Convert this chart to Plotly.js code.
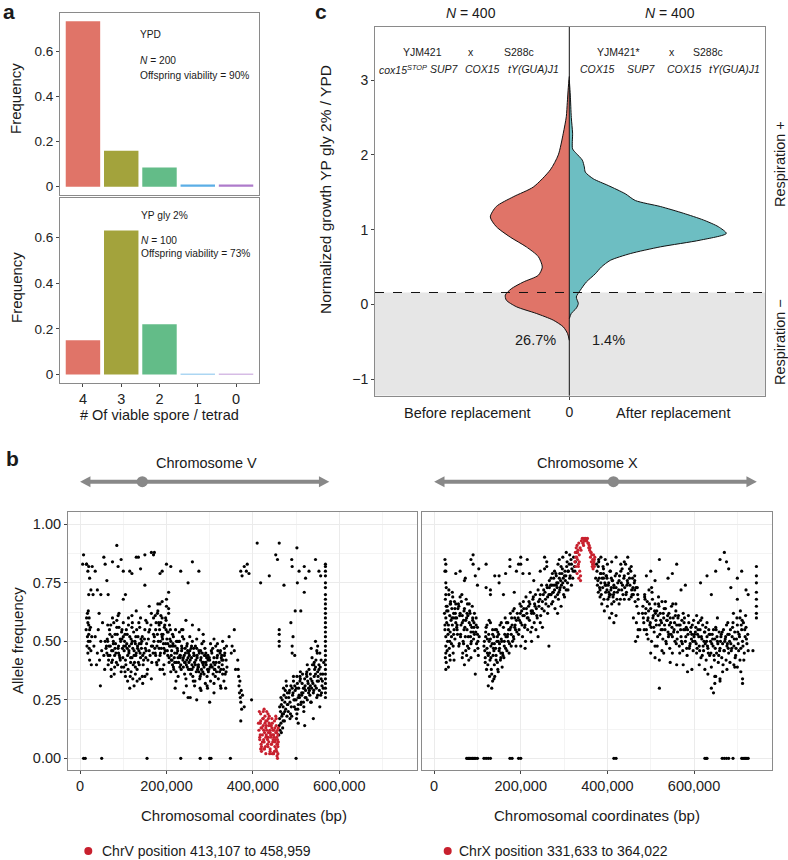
<!DOCTYPE html>
<html><head><meta charset="utf-8">
<script src="https://cdn.plot.ly/plotly-3.0.1.min.js"></script>
<style>html,body{margin:0;padding:0;background:#fff;}#chart{width:788px;height:860px;}</style>
</head><body><div id="chart"></div>
<script>
// ---------- Panel a : tetrad viability ----------
const spores = ['4','3','2','1','0'];
const freqYPD = [0.735, 0.16, 0.085, 0.01, 0.01];
const freqGly = [0.15, 0.63, 0.22, 0.003, 0.003];
const sporeColors = ['#E07468','#A3A33C','#63BC88','#5BAEE6','#AE7BCB'];

// ---------- Panel c : split violin (half-widths, relative density) ----------
const beforeY = [3.05,2.9,2.7,2.51,2.29,2.0,1.8,1.57,1.44,1.31,1.17,1.04,0.90,0.77,0.64,0.50,0.39,0.30,0.21,0.125,0.058,-0.03,-0.12,-0.21,-0.30,-0.39,-0.48];
const beforeDens = [0,0.01,0.02,0.03,0.06,0.11,0.19,0.36,0.56,0.73,0.79,0.73,0.59,0.43,0.31,0.27,0.31,0.46,0.58,0.64,0.63,0.53,0.33,0.16,0.06,0.017,0];
const afterY = [3.0,2.8,2.5,2.29,2.08,2.02,1.93,1.84,1.77,1.68,1.59,1.48,1.39,1.31,1.22,1.13,1.04,0.95,0.86,0.77,0.68,0.59,0.50,0.41,0.30,0.19,0.10,0.013,-0.05,-0.12,-0.19];
const afterDens = [0,0.01,0.02,0.033,0.033,0.07,0.13,0.15,0.16,0.24,0.39,0.56,0.66,0.91,1.14,1.34,1.49,1.57,1.31,0.91,0.61,0.41,0.32,0.26,0.17,0.11,0.07,0.09,0.07,0.02,0];
const threshold = 0.16;
const pctLabels = ['26.7%','1.4%'];
const nLabels = ['400','400'];

// ---------- Panel b : allele frequency (kb, percent) ----------
const chrV_kb = [
14,15,16,17,17,18,18,19,19,20,20,21,21,22,22,23,24,25,26,27,
15,18,22,20,25,32,35,38,40,42,45,47,48,50,52,55,57,58,60,44,
62,64,66,68,70,72,74,76,78,80,82,84,86,88,90,92,94,96,98,100,
63,65,67,69,71,73,75,77,79,81,83,85,87,89,91,93,95,97,99,101,
102,104,106,108,110,112,114,116,118,120,122,124,126,128,130,132,134,136,138,140,
103,105,107,109,111,113,115,117,119,121,123,125,127,129,131,133,135,137,139,141,
142,144,146,148,150,152,154,156,158,160,162,164,166,168,170,143,147,151,155,159,
105,110,115,118,122,125,128,132,138,145,150,165,75,90,100,120,130,140,155,165,170,160,
172,174,176,178,180,182,184,186,188,190,192,194,196,198,200,202,204,206,208,210,
173,175,177,179,181,183,185,187,189,191,193,195,197,199,201,203,205,207,209,211,
180,190,200,205,185,195,210,
212,214,216,218,220,222,224,226,228,230,232,234,236,238,240,242,244,246,248,250,
213,215,217,219,221,223,225,227,229,231,233,235,237,239,241,243,245,247,249,251,
252,254,256,258,260,262,264,266,268,270,272,274,276,278,280,282,284,286,288,290,
253,255,257,259,261,263,265,267,269,271,273,275,277,279,281,283,285,287,289,291,
292,294,296,298,300,302,304,306,308,310,312,314,316,318,320,322,324,326,328,330,
293,297,301,305,309,313,317,321,325,329,332,334,336,338,340,333,335,337,339,331,
220,240,255,265,280,295,310,325,300,270,250,235,260,285,310,330,245,275,
6,8,15,20,28,35,40,48,55,58,62,75,85,88,95,100,115,120,130,135,
140,150,165,170,172,185,190,200,210,233,250,260,275,185,205,150,100,105,65,30,
350,357,357,360,365,366,367,368,369,370,371,372,372,373,374,376,380,397,345,352,
8,12,50,155,233,278,300,303,348,500,
372,375,380,385,387,391,410,418,438,453,457,461,472,490,491,498,502,503,507,519,519,522,553,557,545,530,
460,461,462,463,464,465,466,467,468,469,470,471,472,473,474,475,476,477,478,479,
480,462,465,468,471,474,477,480,466,470,
461,461,461,461,491,491,493,497,488,511,
482,484,486,488,490,492,494,496,498,500,502,504,506,508,510,512,514,516,518,520,
522,524,526,528,530,532,534,536,538,540,542,544,546,548,550,552,554,556,558,560,
483,487,491,495,499,503,507,511,515,519,523,527,531,535,539,543,547,551,555,559,
562,563,564,561,557,553,549,545,541,537,533,529,525,521,517,513,509,505,501,497,
520,540,505,555,550,545,548,535,
568,568,568,568,568,568,568,568,568,568,568,568,568,568,568,568,568,568,568,568,568,568,568,568,568,568,568,568,568,
61,65,69,73,77,81,85,89,93,97,101,105,109,113,117,121,125,129,133,137,
141,145,149,153,157,161,165,169,64,72,80,88,96,104,112,120,128,136,144,152,
171,175,179,183,187,191,195,199,203,207,174,178,182,186,190,194,198,202,206,210,
211,215,219,223,227,231,235,239,243,247,251,255,259,263,267,271,275,279,283,287,
291,295,299,303,307,311,315,319,323,327,214,222,230,238,246,254,262,270,278,286,
294,302,310,318,326,334,216,232,248,264,280,296,312,328,338,226,242,258,274,290,
481,485,489,493,497,501,505,509,513,517,521,525,529,533,537,541,545,549,553,557,
486,494,502,510,518,526,534,542,550,558
];
const chrV_af = [
55,60,48,62,52,58,45,63,50,57,53,60,47,55,42,50,56,46,40,52,
83,80,77,70,72,48,52,40,45,55,42,31,50,46,58,44,38,50,47,62,
45,50,42,55,48,38,52,46,58,44,49,41,53,47,56,43,50,39,47,52,
51,40,48,44,57,46,42,49,36,53,45,59,40,48,44,51,37,55,43,48,
46,53,40,49,44,57,48,35,51,43,47,54,41,49,45,38,52,46,56,43,
50,42,55,47,38,45,52,43,49,58,40,46,50,44,55,47,41,49,45,51,
47,52,40,45,55,43,49,38,51,46,44,57,41,48,53,50,42,47,36,54,
35,33,30,37,34,31,36,33,34,32,35,34,60,62,58,61,63,60,58,62,60,65,
52,45,58,48,63,42,55,50,47,60,53,40,57,49,65,46,54,43,51,48,
47,55,41,62,50,57,44,61,53,38,49,56,46,59,51,44,62,48,55,42,
66,67,68,64,38,36,37,
46,40,52,43,48,37,45,50,41,54,44,38,47,42,51,36,45,40,49,43,
42,49,38,45,55,41,47,35,50,44,40,48,52,39,44,47,34,42,46,38,
41,46,36,43,50,39,44,33,42,47,38,40,45,35,43,49,37,41,44,32,
44,38,47,40,35,45,41,48,37,43,39,46,34,42,38,45,40,36,47,41,
40,35,44,38,42,33,46,39,36,43,40,48,37,44,34,41,45,38,42,36,
43,37,39,45,41,35,43,39,46,40,38,44,36,42,39,33,45,30,48,42,
30,28,26,31,29,30,28,31,24,25,26,55,57,53,51,50,59,55,
83,87,83,82,82,80,72,70,86,83,76,84,91,82,85,80,80,79,86,86,
81,87,88,87,88,79,80,83,82,80,75,84,80,66,71,74,68,70,70,70,
45,55,46,38,42,38,35,31,28,33,26,24,16,29,21,27,22,25,52,48,
0,0,0,0,0,0,0,0,0,0,
80,78,82,80,83,79,92,75,78,87,85,92,74,85,82,63,90,75,80,82,71,77,80,78,85,80,
10,14,17,12,20,15,23,18,25,13,22,19,27,16,24,29,21,26,31,18,
23,22,26,19,30,20,33,28,11,16,
50,53,55,48,48,45,52,44,58,63,
20,28,24,31,18,27,33,22,29,25,35,21,30,26,37,24,32,28,20,34,
29,36,25,32,38,27,34,30,40,28,35,31,42,26,37,33,29,39,34,31,
26,19,30,25,21,32,27,23,36,30,26,33,29,24,32,38,30,35,45,28,
36,30,41,33,27,38,45,36,40,43,31,28,35,26,30,27,35,23,17,31,
14,17,15,22,48,50,46,47,
83,82,80,78,75,73,70,68,66,64,62,60,58,56,54,52,50,48,46,44,42,40,38,36,34,32,30,28,26,
48,44,53,41,50,47,56,45,42,51,39,48,53,46,41,50,44,52,48,40,
49,44,51,46,42,55,48,45,57,35,39,61,54,37,60,56,39,58,35,59,
50,44,53,47,58,51,45,55,49,57,61,40,58,45,52,47,60,54,41,50,
44,48,41,50,43,39,46,43,41,48,45,42,38,47,40,44,37,46,41,39,
45,38,43,40,47,38,41,46,37,43,53,33,50,55,31,52,33,51,30,50,
31,49,32,49,30,47,39,43,39,44,36,42,38,44,37,46,41,48,39,44,
23,29,22,28,25,30,26,33,28,24,31,37,30,36,33,29,39,33,40,36,
17,35,19,34,22,40,24,41,27,42
];
const chrVsel_kb = [
414,416,418,420,422,424,426,428,430,432,434,436,438,440,442,444,446,448,450,452,
415,417,419,421,423,425,427,429,431,433,435,437,439,441,443,445,447,449,451,453,
454,455,456,457,458,459,454,455,456,457,458,459,413,418,424,430,436,442,450,457,
420,425,430,435,440,445,426,432,438,444,
416,419,422,425,428,431,434,437,440,443,446,449,452,455,458,418,424,430,436,442,
448,451,454,457,417,427,433,439,445,453
];
const chrVsel_af = [
12,8,16,5,10,14,7,18,9,12,6,11,15,4,9,13,7,10,3,8,
20,10,6,13,17,8,11,5,14,9,19,7,12,10,6,15,8,12,5,11,
14,9,6,12,2,7,4,11,1,8,5,13,15,19,20,16,17,14,16,0,
3,4,2,5,3,2,21,20,18,17,
9,13,7,12,15,10,8,14,11,6,12,9,7,3,10,4,17,13,9,14,
2,13,17,6,15,4,16,2,10,18
];
const chrX_kb = [
24,25,26,27,27,27,27,27,28,29,30,31,32,33,34,35,36,37,38,39,
40,41,42,43,44,45,46,47,48,49,50,26,28,30,32,34,36,38,40,42,
27,27,27,27,44,46,48,50,33,37,
52,54,56,58,60,62,64,66,68,70,72,74,76,78,80,82,84,86,88,90,
53,55,57,59,61,63,65,67,69,71,73,75,77,79,81,83,85,87,89,91,
92,94,96,98,100,102,104,93,97,101,65,75,80,85,95,70,60,70,85,95,90,100,
116,118,120,122,124,126,128,130,132,134,136,138,140,142,144,146,148,150,152,154,
117,119,121,123,125,127,129,131,133,135,137,139,141,143,145,147,149,151,153,155,
156,158,160,162,164,166,168,170,172,174,176,178,180,182,184,186,188,190,157,161,
165,169,173,177,181,185,189,192,125,135,128,138,148,133,120,140,150,165,175,160,185,190,130,
194,196,198,200,202,204,206,208,210,212,214,216,218,220,222,224,226,228,230,232,
195,199,203,207,211,215,219,223,227,231,234,236,238,240,242,244,246,248,250,252,
254,256,258,260,262,264,266,268,235,245,200,210,225,240,250,265,200,205,215,230,245,255,260,
270,272,274,276,278,280,282,284,286,288,290,292,294,296,298,300,302,304,306,308,
271,275,279,283,287,291,295,299,303,307,310,312,314,316,318,320,322,324,326,328,
285,293,301,309,317,325,289,297,305,313,
376,378,380,382,384,386,388,390,392,394,396,398,400,402,404,406,408,410,412,414,
377,379,381,383,385,387,389,391,393,395,397,399,401,403,405,407,409,411,413,415,
416,418,420,422,424,405,410,415,420,385,395,380,400,410,420,
426,428,430,432,434,436,438,440,442,444,446,448,450,452,454,456,458,460,462,464,
466,468,470,472,427,431,435,439,443,447,451,455,459,463,467,471,460,475,470,465,
482,484,486,488,490,492,494,496,498,500,502,504,506,508,510,512,514,516,518,520,
483,487,491,495,499,503,507,511,515,519,523,527,531,535,539,543,547,551,555,559,
522,524,526,528,530,532,534,536,538,540,542,544,546,548,550,552,554,556,558,560,
562,564,566,568,570,572,574,576,578,580,582,584,586,588,590,592,594,596,598,600,
563,567,571,575,579,583,587,591,595,599,
500,510,520,530,545,560,520,585,575,595,490,500,510,520,540,550,560,580,570,
602,604,606,608,610,612,614,616,618,620,622,624,626,628,630,632,634,636,638,640,
603,607,611,615,619,623,627,631,635,639,643,647,651,655,659,663,667,671,675,679,
642,644,646,648,650,652,654,656,658,660,662,664,666,668,670,672,674,676,678,680,
682,684,686,688,690,692,694,696,698,700,702,704,706,708,710,712,714,716,718,720,
722,724,683,687,691,695,699,703,707,711,715,719,632,648,660,676,692,708,612,625,
640,645,648,650,660,700,712,712,615,630,650,660,670,675,680,700,710,720,725,640,700,685,
744,744,744,744,744,744,744,744,736,
75,78,80,82,85,88,90,93,96,100,115,120,125,130,175,180,195,200,415,420,625,628,630,665,670,675,680,690,710,713,716,719,722,725,
25,25,50,72,90,103,120,130,150,175,195,200,220,255,260,
25,29,33,37,41,45,49,53,57,61,65,69,73,77,81,85,89,93,97,101,
28,36,44,52,60,68,76,84,92,100,
115,119,123,127,131,135,139,143,147,151,155,159,163,167,171,175,179,183,187,191,
122,130,138,146,154,162,170,178,186,118,
197,201,205,209,213,217,221,225,229,233,237,241,245,249,253,257,261,265,269,273,
277,281,285,289,293,297,301,305,309,313,317,321,262,266,270,274,278,282,286,290,
373,379,385,391,397,403,409,415,421,427,433,439,445,451,457,463,469,375,383,391,
399,407,415,423,431,439,447,455,463,471,
481,485,489,493,497,501,505,509,513,517,521,525,529,533,537,541,545,549,553,557,
561,565,569,573,577,581,585,589,593,597,486,494,502,510,518,526,534,542,550,558,
601,605,609,613,617,621,625,629,633,637,641,645,649,653,657,661,665,669,673,677,
681,685,689,693,697,701,705,709,713,717,721,725,606,618,630,654,666,678,694,706
];
const chrX_af = [
62,55,68,45,52,60,70,75,41,58,65,50,63,57,70,47,61,54,66,59,
52,64,57,69,48,62,55,67,51,60,58,43,73,46,53,72,44,67,49,71,
80,83,48,38,45,42,64,66,39,42,
60,53,66,49,62,57,70,45,59,64,52,68,55,61,47,63,57,50,65,54,
55,64,48,61,53,67,58,50,63,56,46,60,66,52,58,62,49,56,60,51,
58,46,54,49,56,44,52,62,60,50,43,44,42,43,36,40,80,76,85,78,83,74,
50,43,56,47,40,53,45,58,38,49,44,52,35,47,55,41,50,46,57,43,
46,54,38,51,44,59,42,48,36,53,47,40,55,44,50,38,53,49,42,58,
50,45,56,48,60,52,46,58,55,49,62,53,57,63,51,60,55,59,39,43,
47,52,45,56,50,64,48,62,31,33,35,34,37,30,73,78,75,79,82,70,71,80,70,
60,55,66,58,63,52,67,61,57,69,62,55,65,59,71,63,56,68,62,66,
53,62,57,64,50,60,67,54,63,58,70,64,60,72,65,68,61,74,67,70,
63,71,66,74,69,65,73,70,55,58,48,47,50,52,56,48,83,79,85,76,80,81,84,
70,74,67,77,72,69,78,73,75,71,79,76,74,81,77,73,80,78,82,75,
66,71,64,75,68,73,79,70,76,84,80,83,78,85,81,77,86,82,84,88,
62,65,69,72,74,80,85,86,88,87,
80,76,84,73,79,70,77,82,68,75,71,78,65,74,69,80,72,66,76,70,
74,82,77,72,79,66,73,77,63,74,78,72,68,75,70,80,73,76,69,74,
71,78,73,68,75,60,62,58,61,86,85,85,83,84,86,
72,78,68,75,81,70,77,73,83,71,76,79,68,74,80,72,77,70,75,67,
73,65,70,62,66,80,74,84,70,86,77,82,73,78,58,55,60,55,52,50,
65,58,70,62,55,67,60,72,57,64,50,68,61,54,66,59,63,52,69,57,
60,68,53,63,58,71,56,62,48,65,59,55,64,50,61,57,53,66,58,49,
62,55,67,51,60,57,64,49,59,54,62,47,58,65,52,60,55,50,63,57,
54,61,48,57,52,59,46,55,60,50,56,44,53,58,48,54,51,57,46,52,
60,45,50,62,55,47,61,49,53,59,
45,43,42,45,41,40,30,37,40,38,78,80,76,85,77,79,83,74,72,
50,56,45,53,58,48,55,43,51,57,46,54,49,42,52,47,55,44,50,39,
54,47,52,59,44,50,56,48,53,45,51,42,55,49,46,53,40,50,57,47,
53,48,44,51,56,45,50,41,54,47,52,43,49,55,46,51,42,48,53,45,
50,55,46,52,58,48,54,44,51,57,49,53,60,47,55,50,58,45,52,56,
49,53,41,47,62,43,60,46,63,59,42,61,36,35,34,38,40,37,40,38,
30,28,32,35,33,39,32,34,75,78,80,85,88,84,81,77,80,72,70,70,68,73,
82,78,75,71,68,65,62,60,46,
0,0,0,0,0,0,0,0,0,0,0,0,0,0,0,0,0,0,0,0,0,0,0,0,0,0,0,0,0,0,0,0,0,0,
85,80,79,77,87,81,83,72,78,85,83,86,79,86,82,
57,63,55,66,60,53,62,57,65,52,61,55,59,48,66,54,59,53,57,47,
65,50,60,56,69,49,62,52,56,53,
48,52,45,50,43,55,49,42,54,47,51,44,53,58,50,55,60,52,57,54,
57,51,46,52,45,50,53,48,56,41,
59,65,61,56,64,60,66,62,69,65,61,67,70,64,72,68,73,70,74,79,
74,79,70,77,82,75,78,72,80,77,83,80,62,76,77,71,80,74,83,72,
77,71,75,79,74,71,77,73,79,76,72,78,74,81,70,76,73,83,69,81,
77,70,67,71,83,68,75,69,72,68,
62,55,64,59,66,56,60,63,57,61,53,58,62,55,59,52,60,56,54,61,
51,57,55,49,58,52,55,47,56,50,69,51,73,48,66,46,67,53,45,66,
53,49,55,46,52,48,54,50,45,53,49,55,47,52,44,50,54,46,52,49,
53,49,56,51,47,54,52,57,48,55,51,46,61,60,58,60,37,58,39,42
];
const chrXsel_kb = [
325,326,327,328,329,330,331,332,333,334,335,336,337,338,340,342,344,346,348,350,
352,354,356,358,359,360,361,362,363,364,365,366,367,368,369,370,371,330,334,338,
327,331,335,339,343,347,351,355,362,366,370,333,345,357,368
];
const chrXsel_af = [
84,88,82,90,86,91,85,89,83,92,87,80,90,78,93,94,92,94,93,94,
93,94,92,91,89,90,86,88,84,87,82,85,81,83,84,82,86,79,77,76,
86,88,84,89,92,93,93,92,88,83,85,82,91,90,87
];
const chrNames = ['Chromosome V','Chromosome X'];
const chrLenKb = [577, 745];
const centromereKb = [144, 414];
const selLabels = ['ChrV position 413,107 to 458,959','ChrX position 331,633 to 364,022'];

// ---------- drawing ----------
const W = 788, H = 860;
const fx = p => p / W, fy = p => 1 - p / H;
const FONT = 'Liberation Sans, Arial, Helvetica, sans-serif';
const TXT = '#1a1a1a';
const FR = '#8a8a8a';
const RED = '#C8202E';

const traces = [];
traces.push({type:'bar', x:spores, y:freqYPD, width:0.9, marker:{color:sporeColors, line:{width:0}}, xaxis:'x', yaxis:'y', hoverinfo:'skip'});
traces.push({type:'bar', x:spores, y:freqGly, width:0.9, marker:{color:sporeColors, line:{width:0}}, xaxis:'x2', yaxis:'y2', hoverinfo:'skip'});
traces.push({type:'scatter', mode:'lines', x:beforeDens.map(d => -d), y:beforeY, fill:'toself', fillcolor:'#E07468',
  line:{color:'#111', width:1, shape:'spline', smoothing:0.7}, xaxis:'x3', yaxis:'y3', hoverinfo:'skip'});
traces.push({type:'scatter', mode:'lines', x:afterDens, y:afterY, fill:'toself', fillcolor:'#6DBEC2',
  line:{color:'#111', width:1, shape:'spline', smoothing:0.7}, xaxis:'x3', yaxis:'y3', hoverinfo:'skip'});
const bp = a => a.map(v => v * 1000), fr = a => a.map(v => v / 100);
const ms = 3.2;
traces.push({type:'scatter', mode:'markers', x:bp(chrV_kb), y:fr(chrV_af), marker:{color:'#000', size:ms}, xaxis:'x4', yaxis:'y4', hoverinfo:'skip'});
traces.push({type:'scatter', mode:'markers', x:bp(chrVsel_kb), y:fr(chrVsel_af), marker:{color:RED, size:ms}, xaxis:'x4', yaxis:'y4', hoverinfo:'skip'});
traces.push({type:'scatter', mode:'markers', x:bp(chrX_kb), y:fr(chrX_af), marker:{color:'#000', size:ms}, xaxis:'x5', yaxis:'y5', hoverinfo:'skip'});
traces.push({type:'scatter', mode:'markers', x:bp(chrXsel_kb), y:fr(chrXsel_af), marker:{color:RED, size:ms}, xaxis:'x5', yaxis:'y5', hoverinfo:'skip'});

const base = {showline:true, mirror:true, linecolor:FR, linewidth:1, zeroline:false, showgrid:false,
  ticks:'outside', ticklen:3, tickwidth:1, tickcolor:'#444', tickfont:{size:13.5, color:'#222'}, fixedrange:true};
const catAx = {type:'category', categoryorder:'array', categoryarray:spores, range:[-0.6, 4.6]};
const bRange = [-0.037, 0.772];
const chromX = {range:[-28000, 780000], tick0:0, dtick:200000, tickformat:',d', showgrid:true, gridcolor:'#EBEBEB',
  minor:{dtick:100000, showgrid:true, gridcolor:'#F4F4F4', ticks:''}, tickfont:{size:14.5, color:'#222'}};
const chromY = {range:[-0.05, 1.053], tick0:0, dtick:0.25, tickformat:'.2f', showgrid:true, gridcolor:'#EBEBEB',
  minor:{dtick:0.125, showgrid:true, gridcolor:'#F4F4F4', ticks:''}, tickfont:{size:14.5, color:'#222'}};

const layout = {
  width:W, height:H, margin:{l:0, r:0, t:0, b:0}, showlegend:false,
  paper_bgcolor:'#fff', plot_bgcolor:'#fff', font:{family:FONT, color:TXT},
  xaxis: Object.assign({}, base, catAx, {domain:[fx(60), fx(259)], anchor:'y', ticks:'', showticklabels:false}),
  yaxis: Object.assign({}, base, {domain:[fy(195), fy(13)], anchor:'x', range:bRange, tickvals:[0,0.2,0.4,0.6], ticktext:['0','0.2','0.4','0.6']}),
  xaxis2: Object.assign({}, base, catAx, {domain:[fx(60), fx(259)], anchor:'y2', tickfont:{size:14.5, color:'#222'}}),
  yaxis2: Object.assign({}, base, {domain:[fy(383), fy(198)], anchor:'x2', range:bRange, tickvals:[0,0.2,0.4,0.6], ticktext:['0','0.2','0.4','0.6']}),
  xaxis3: Object.assign({}, base, {domain:[fx(375), fx(765)], anchor:'y3', range:[-1.943, 1.957], tickvals:[0], ticktext:['0'], tickfont:{size:14, color:'#222'}}),
  yaxis3: Object.assign({}, base, {domain:[fy(395.7), fy(27)], anchor:'x3', range:[-1.22, 3.71], tickvals:[-1,0,1,2,3], tickfont:{size:14, color:'#222'}}),
  xaxis4: Object.assign({}, base, chromX, {domain:[fx(68), fx(417)], anchor:'y4'}),
  yaxis4: Object.assign({}, base, chromY, {domain:[fy(770), fy(512)], anchor:'x4'}),
  xaxis5: Object.assign({}, base, chromX, {domain:[fx(422), fx(772)], anchor:'y5'}),
  yaxis5: Object.assign({}, base, chromY, {domain:[fy(770), fy(512)], anchor:'x5', showticklabels:false, ticks:''}),
  shapes: [], annotations: []
};

// panel c decorations
layout.shapes.push({type:'rect', xref:'x3 domain', yref:'y3', x0:0, x1:1, y0:-1.22, y1:threshold, fillcolor:'#E6E6E6', line:{width:0}, layer:'below'});
layout.shapes.push({type:'line', xref:'x3 domain', yref:'y3', x0:0, x1:1, y0:threshold, y1:threshold, line:{color:'#111', width:1, dash:'dash'}});
layout.shapes.push({type:'line', xref:'x3', yref:'y3 domain', x0:0, x1:0, y0:0, y1:1, line:{color:'#111', width:1}});

// chromosome arrows (panel b)
const arrowY = fy(481.7), hh = 5.5 / H, headLen = 24000, GREY = '#888888';
['x4','x5'].forEach((xr, i) => {
  const L = chrLenKb[i] * 1000, c = centromereKb[i] * 1000;
  layout.shapes.push({type:'line', xref:xr, yref:'paper', x0:headLen*0.8, x1:L - headLen*0.8, y0:arrowY, y1:arrowY, line:{color:GREY, width:4}});
  layout.shapes.push({type:'path', xref:xr, yref:'paper', path:`M 0 ${arrowY} L ${headLen} ${arrowY+hh} L ${headLen} ${arrowY-hh} Z`, fillcolor:GREY, line:{width:0}});
  layout.shapes.push({type:'path', xref:xr, yref:'paper', path:`M ${L} ${arrowY} L ${L-headLen} ${arrowY+hh} L ${L-headLen} ${arrowY-hh} Z`, fillcolor:GREY, line:{width:0}});
  layout.shapes.push({type:'circle', xref:xr, yref:'paper', x0:c-13000, x1:c+13000, y0:arrowY-5.5/H, y1:arrowY+5.5/H, fillcolor:GREY, line:{width:0}});
});

// legend dots
[[88.3, 851],[447.7, 851]].forEach(p => {
  layout.shapes.push({type:'circle', xref:'paper', yref:'paper', x0:fx(p[0]-4), x1:fx(p[0]+4), y0:fy(p[1]+4), y1:fy(p[1]-4), fillcolor:RED, line:{width:0}});
});

function A(text, x, y, size, o) {
  layout.annotations.push(Object.assign({text:text, x:fx(x), y:fy(y), xref:'paper', yref:'paper', showarrow:false,
    font:{size:size, color:TXT, family:FONT}, xanchor:'center', yanchor:'middle'}, o || {}));
}
// panel letters
A('<b>a</b>', 9, 11, 21); A('<b>c</b>', 321, 11, 21); A('<b>b</b>', 12, 458, 21);
// panel a
A('YPD', 138, 34, 10.2, {xanchor:'left'});
A('<i>N</i> = 200', 138, 60, 10.2, {xanchor:'left'});
A('Offspring viability = 90%', 138, 75, 10.2, {xanchor:'left'});
A('YP gly 2%', 139, 215, 10.2, {xanchor:'left'});
A('<i>N</i> = 100', 139, 240, 10.2, {xanchor:'left'});
A('Offspring viability = 73%', 139, 254, 10.2, {xanchor:'left'});
A('Frequency', 16, 99, 15, {textangle:-90});
A('Frequency', 16, 288, 15, {textangle:-90});
A('# Of viable spore / tetrad', 159.5, 415, 14.5);
// panel c
A('<i>N</i> = ' + nLabels[0], 471, 13, 14);
A('<i>N</i> = ' + nLabels[1], 670, 13, 14);
A('YJM421', 422, 52, 10.5); A('x', 471, 52, 10.5); A('S288c', 519, 52, 10.5);
A('<i>cox15</i><sup><i>STOP</i></sup>', 377, 69, 10.5, {xanchor:'left'});
A('<i>SUP7</i>', 444, 69, 10.5); A('<i>COX15</i>', 482, 69, 10.5); A('<i>tY(GUA)J1</i>', 533.3, 69, 10.5);
A('YJM421*', 618, 52, 10.5); A('x', 671.7, 52, 10.5); A('S288c', 708.3, 52, 10.5);
A('<i>COX15</i>', 597.5, 69, 10.5); A('<i>SUP7</i>', 641, 69, 10.5); A('<i>COX15</i>', 684.5, 69, 10.5); A('<i>tY(GUA)J1</i>', 734, 69, 10.5);
A(pctLabels[0], 535, 340, 14.5); A(pctLabels[1], 608, 340, 14.5);
A('Before replacement', 467.7, 413, 14.5); A('After replacement', 673, 413, 14.5);
A('Normalized growth YP gly 2% / YPD', 326, 190, 15.5, {textangle:-90});
A('Respiration +', 780, 164, 14.5, {textangle:-90});
A('Respiration \u2212', 780, 342, 14.5, {textangle:-90});
// panel b
A(chrNames[0], 206, 463, 14.5); A(chrNames[1], 587, 463, 14.5);
A('Allele frequency', 17, 641, 15, {textangle:-90});
A('Chromosomal coordinates (bp)', 244, 815, 15);
A('Chromosomal coordinates (bp)', 597, 815, 15);
A(selLabels[0], 100, 851, 14, {xanchor:'left'});
A(selLabels[1], 457, 851, 14, {xanchor:'left'});

Plotly.newPlot('chart', traces, layout, {staticPlot:true, displayModeBar:false});
</script>
</body></html>
